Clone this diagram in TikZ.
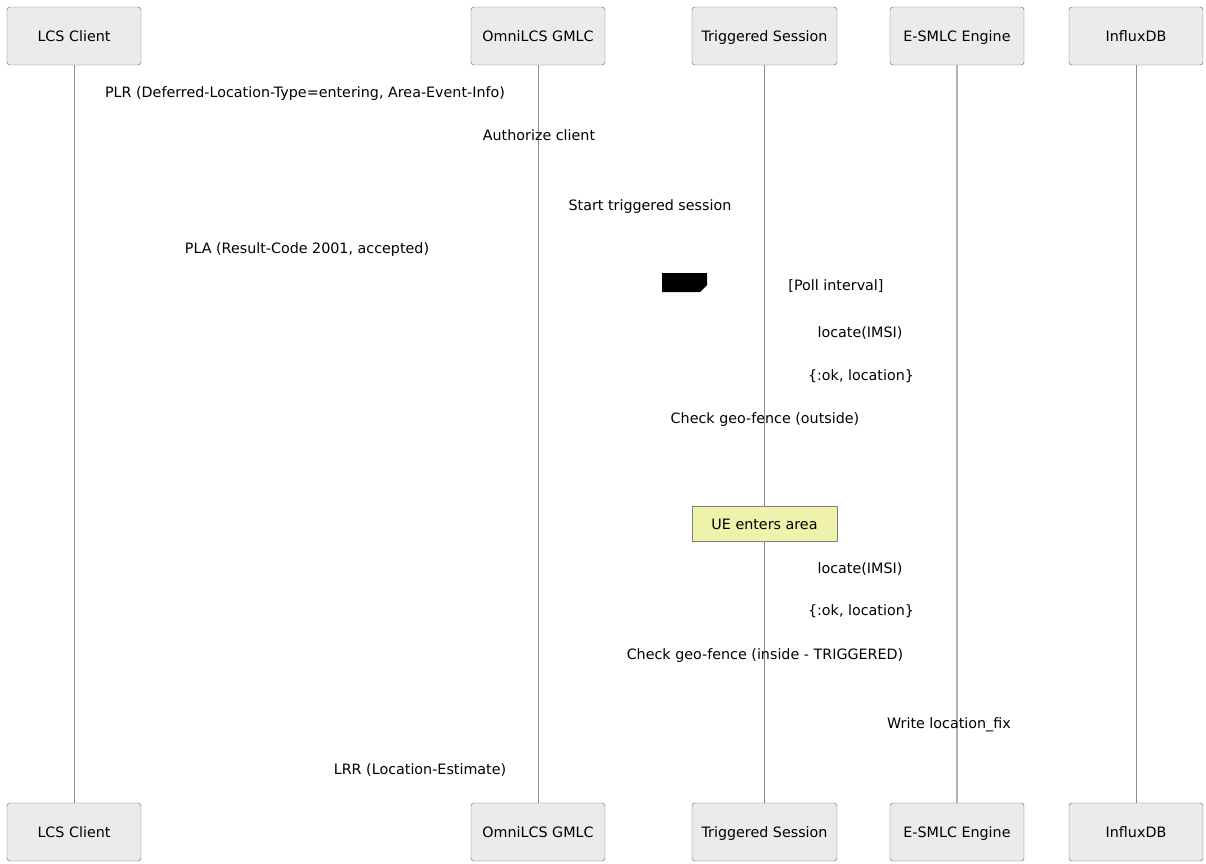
\documentclass[tikz,border=0pt]{standalone}
\usepackage{fontspec}
\setmainfont{DejaVu Sans}
\begin{document}
\begin{tikzpicture}[x=1pt,y=-1pt,
  actor/.style={draw=black!60,fill=black!8,rounded corners=3pt,minimum width=134pt,minimum height=58pt,inner sep=0pt,text height=12.5pt,text depth=1.5pt,font=\fontsize{14.3}{16}\selectfont},
  life/.style={draw=black!45,line width=0.8pt},
  msg/.style={font=\fontsize{14.3}{16}\selectfont,inner sep=0pt,text height=12.5pt,text depth=1.5pt},
  notebox/.style={draw=black!50,fill={rgb,255:red,238;green,242;blue,170},minimum width=145pt,minimum height=35pt,inner sep=0pt,text height=12.5pt,text depth=1.5pt,font=\fontsize{14.3}{16}\selectfont}]
\useasboundingbox (0,0) rectangle (1206,863);
% lifelines
\foreach \n/\x in {a/74,b/538,c/764,d/957,e/1136}{
  \coordinate (\n t) at (\x,65);
  \coordinate (\n b) at (\x,803);
}
\draw[life] (at) -- (ab);
\draw[life] (bt) -- (bb);
\draw[life] (ct) -- (cb);
\draw[life,draw=black!30,line width=1.4pt] (dt) -- (db);
\draw[life] (et) -- (eb);
% actors top
\node[actor] (A1) at (74,36) {LCS Client};
\node[actor] (B1) at (538,36) {OmniLCS GMLC};
\node[actor,minimum width=145pt] (C1) at (764.5,36) {Triggered Session};
\node[actor] (D1) at (957,36) {E-SMLC Engine};
\node[actor] (E1) at (1136,36) {InfluxDB};
% actors bottom
\node[actor] (A2) at (74,832) {LCS Client};
\node[actor] (B2) at (538,832) {OmniLCS GMLC};
\node[actor,minimum width=145pt] (C2) at (764.5,832) {Triggered Session};
\node[actor] (D2) at (957,832) {E-SMLC Engine};
\node[actor] (E2) at (1136,832) {InfluxDB};
% loop label blob
\fill[black] (662,273) -- (707,273) -- (707,285) -- (700,292) -- (662,292) -- cycle;
% messages
\node[msg] (m1) at (305,92) {PLR (Deferred-Location-Type=entering, Area-Event-Info)};
\node[msg] (m2) at (539,135) {Authorize client};
\node[msg] (m3) at (650,205) {Start triggered session};
\node[msg] (m4) at (307,248) {PLA (Result-Code 2001, accepted)};
\node[msg] (m5) at (836,285) {[Poll interval]};
\node[msg] (m6) at (860,332) {locate(IMSI)};
\node[msg] (m7) at (861,375) {\{:ok, location\}};
\node[msg] (m8) at (765,418) {Check geo-fence (outside)};
\node[notebox] (n1) at (764.5,523.5) {UE enters area};
\node[msg] (m9) at (860,568) {locate(IMSI)};
\node[msg] (m10) at (861,610) {\{:ok, location\}};
\node[msg] (m11) at (765,654) {Check geo-fence (inside - TRIGGERED)};
\node[msg] (m12) at (949,723) {Write location\_fix};
\node[msg] (m13) at (420,769) {LRR (Location-Estimate)};
\end{tikzpicture}
\end{document}
